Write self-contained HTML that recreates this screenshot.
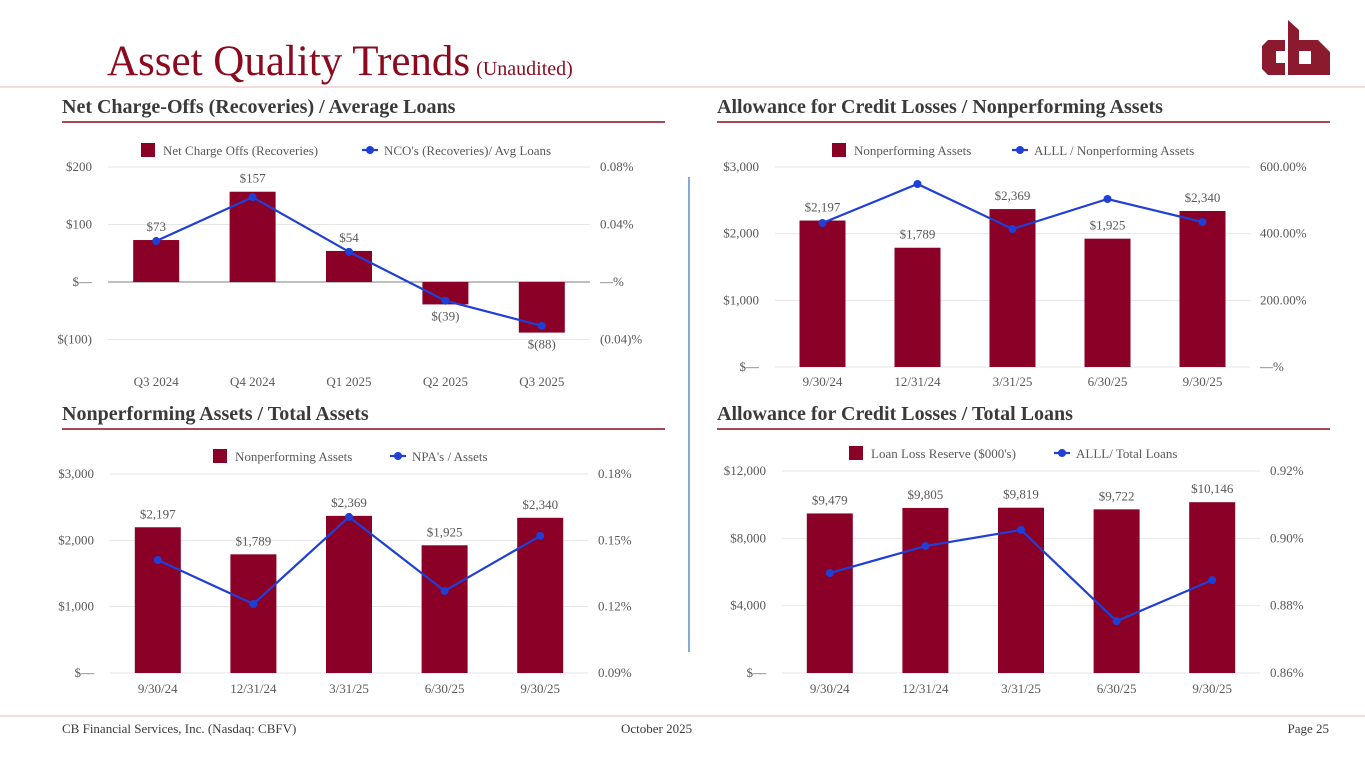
<!DOCTYPE html>
<html><head><meta charset="utf-8"><style>
body{margin:0;background:#fff;width:1365px;height:768px;overflow:hidden}
svg{display:block;font-family:"Liberation Serif",serif}
</style></head><body>
<svg id="s" width="1365" height="768" viewBox="0 0 1365 768">
<text x="107" y="75" font-size="43" fill="#8b0a1e">Asset Quality Trends<tspan font-size="20" dx="6">(Unaudited)</tspan></text>
<g fill="#8b1a2e">
<polygon points="1268,40 1285,40 1285,51 1276,51 1276,63 1285,63 1285,75 1268,75 1262,69 1262,46"/>
<polygon points="1288,20 1299,30 1299,40 1318,40 1330,52 1330,75 1288,75"/>
<rect x="1299" y="51" width="12" height="13" fill="#fff"/>
</g>
<line x1="0" y1="87" x2="1365" y2="87" stroke="#e8b8b8" stroke-width="1"/>
<text x="62" y="113" font-size="20" font-weight="bold" fill="#3a3a3a">Net Charge-Offs (Recoveries) / Average Loans</text>
<line x1="62" y1="122" x2="665" y2="122" stroke="#8b0a1e" stroke-width="1.5"/>
<text x="717" y="113" font-size="20" font-weight="bold" fill="#3a3a3a">Allowance for Credit Losses / Nonperforming Assets</text>
<line x1="717" y1="122" x2="1330" y2="122" stroke="#8b0a1e" stroke-width="1.5"/>
<text x="62" y="420" font-size="20" font-weight="bold" fill="#3a3a3a">Nonperforming Assets / Total Assets</text>
<line x1="62" y1="429" x2="665" y2="429" stroke="#8b0a1e" stroke-width="1.5"/>
<text x="717" y="420" font-size="20" font-weight="bold" fill="#3a3a3a">Allowance for Credit Losses / Total Loans</text>
<line x1="717" y1="429" x2="1330" y2="429" stroke="#8b0a1e" stroke-width="1.5"/>
<line x1="689" y1="177" x2="689" y2="652" stroke="#5b8fc9" stroke-width="1.5"/>
<line x1="0" y1="716" x2="1365" y2="716" stroke="#e8b8b8" stroke-width="1"/>
<text x="62" y="733" font-size="13" fill="#3a3a3a">CB Financial Services, Inc. (Nasdaq: CBFV)</text>
<text x="621" y="733" font-size="13" fill="#3a3a3a">October 2025</text>
<text x="1329" y="733" font-size="13" fill="#3a3a3a" text-anchor="end">Page 25</text>
</svg>
<script>
const c1Cats=["Q3 2024","Q4 2024","Q1 2025","Q2 2025","Q3 2025"];
const c1Bars=[73,157,54,-39,-88];
const c1BarLabels=["$73","$157","$54","$(39)","$(88)"];
const c1Line=[0.0285,0.059,0.021,-0.013,-0.0305];
const c1LeftTicks=[-100,0,100,200];
const c1LeftLabels=["$(100)","$—","$100","$200"];
const c1RightLabels=["(0.04)%","—%","0.04%","0.08%"];

const c2Cats=["9/30/24","12/31/24","3/31/25","6/30/25","9/30/25"];
const c2Bars=[2197,1789,2369,1925,2340];
const c2BarLabels=["$2,197","$1,789","$2,369","$1,925","$2,340"];
const c2Line=[432,549,414,504,435];
const c2LeftTicks=[0,1000,2000,3000];
const c2LeftLabels=["$—","$1,000","$2,000","$3,000"];
const c2RightLabels=["—%","200.00%","400.00%","600.00%"];

const c3Cats=["9/30/24","12/31/24","3/31/25","6/30/25","9/30/25"];
const c3Bars=[2197,1789,2369,1925,2340];
const c3BarLabels=["$2,197","$1,789","$2,369","$1,925","$2,340"];
const c3Line=[0.1411,0.1212,0.1606,0.1271,0.152];
const c3LeftTicks=[0,1000,2000,3000];
const c3LeftLabels=["$—","$1,000","$2,000","$3,000"];
const c3RightLabels=["0.09%","0.12%","0.15%","0.18%"];

const c4Cats=["9/30/24","12/31/24","3/31/25","6/30/25","9/30/25"];
const c4Bars=[9479,9805,9819,9722,10146];
const c4BarLabels=["$9,479","$9,805","$9,819","$9,722","$10,146"];
const c4Line=[0.8897,0.8977,0.9025,0.8754,0.8876];
const c4LeftTicks=[0,4000,8000,12000];
const c4LeftLabels=["$—","$4,000","$8,000","$12,000"];
const c4RightLabels=["0.86%","0.88%","0.90%","0.92%"];

const NS="http://www.w3.org/2000/svg";
const svg=document.getElementById('s');
function mk(tag,attrs,parent,txt){const e=document.createElementNS(NS,tag);for(const k in attrs)e.setAttribute(k,attrs[k]);if(txt!==undefined)e.textContent=txt;(parent||svg).appendChild(e);return e;}

function chart(o){
  const g=mk('g',{});
  
  
  const lmin=o.lt[0],lmax=o.lt[o.lt.length-1];
  const yL=v=>o.bot-(v-lmin)/(lmax-lmin)*(o.bot-o.top);
  const yR=v=>o.bot-(v-o.rmin)/(o.rmax-o.rmin)*(o.bot-o.top);
  const step=(o.x1-o.x0)/o.cats.length;
  const xC=i=>o.x0+step*(i+0.5);
  o.lt.forEach((t,i)=>{
    const gl=mk('line',{x1:o.x0,x2:o.x1,y1:yL(t),y2:yL(t),stroke:t===0&&lmin<0?'#7f7f7f':'#e6e6e6','stroke-width':1},g);
    
    
    const a=mk('text',{x:o.x0-16,y:yL(t)+4,'font-size':13,fill:'#595959','text-anchor':'end'},g,o.ll[i]);
    
    
    const b=mk('text',{x:o.x1+10,y:yL(t)+4,'font-size':13,fill:'#595959'},g,o.rl[i]);
    
    
  });
  const zero=yL(Math.max(0,lmin));
  o.bars.forEach((v,i)=>{
    const y=yL(v);
    const r=mk('rect',{x:xC(i)-23,y:Math.min(y,zero),width:46,height:Math.abs(zero-y),fill:'#8b0026'},g);
    
    
    const ly=v>=0?y-9:y+16;
    const t=mk('text',{x:xC(i),y:ly,'font-size':13,fill:'#595959','text-anchor':'middle'},g,o.bl[i]);
    
    
    const c=mk('text',{x:xC(i),y:o.catY,'font-size':13,fill:'#595959','text-anchor':'middle'},g,o.cats[i]);
    
    
  });
  const pts=o.line.map((v,i)=>xC(i)+','+yR(v)).join(' ');
  const pl=mk('polyline',{points:pts,fill:'none',stroke:'#1f3fd6','stroke-width':2.2},g);
  
  
  o.line.forEach((v,i)=>{
    const d=mk('circle',{cx:xC(i),cy:yR(v),r:4,fill:'#1f3fd6'},g);
    
    
  });
  const lg=mk('g',{},g);
  
  
  mk('rect',{x:o.lgx,y:o.lgy-7,width:14,height:14,fill:'#8b0026'},lg);
  mk('text',{x:o.lgx+22,y:o.lgy+5,'font-size':13,fill:'#595959'},lg,o.lg1);
  mk('line',{x1:o.lgx2,x2:o.lgx2+16,y1:o.lgy,y2:o.lgy,stroke:'#1f3fd6','stroke-width':2.2},lg);
  mk('circle',{cx:o.lgx2+8,cy:o.lgy,r:4,fill:'#1f3fd6'},lg);
  mk('text',{x:o.lgx2+22,y:o.lgy+5,'font-size':13,fill:'#595959'},lg,o.lg2);
}
chart({name:'nco-chart',cats:c1Cats,bars:c1Bars,bl:c1BarLabels,line:c1Line,lt:c1LeftTicks,ll:c1LeftLabels,rl:c1RightLabels,rmin:-0.04,rmax:0.08,x0:108,x1:590,top:167,bot:339.5,catY:386,lgx:141,lgx2:362,lgy:150,lg1:'Net Charge Offs (Recoveries)',lg2:"NCO's (Recoveries)/ Avg Loans"});
chart({name:'acl-npa-chart',cats:c2Cats,bars:c2Bars,bl:c2BarLabels,line:c2Line,lt:c2LeftTicks,ll:c2LeftLabels,rl:c2RightLabels,rmin:0,rmax:600,x0:775,x1:1250,top:167,bot:367,catY:386,lgx:832,lgx2:1012,lgy:150,lg1:'Nonperforming Assets',lg2:'ALLL / Nonperforming Assets'});
chart({name:'npa-assets-chart',cats:c3Cats,bars:c3Bars,bl:c3BarLabels,line:c3Line,lt:c3LeftTicks,ll:c3LeftLabels,rl:c3RightLabels,rmin:0.09,rmax:0.18,x0:110,x1:588,top:474,bot:673,catY:693,lgx:213,lgx2:390,lgy:456,lg1:'Nonperforming Assets',lg2:"NPA's / Assets"});
chart({name:'acl-loans-chart',cats:c4Cats,bars:c4Bars,bl:c4BarLabels,line:c4Line,lt:c4LeftTicks,ll:c4LeftLabels,rl:c4RightLabels,rmin:0.86,rmax:0.92,x0:782,x1:1260,top:471,bot:673,catY:693,lgx:849,lgx2:1054,lgy:453,lg1:"Loan Loss Reserve ($000's)",lg2:'ALLL/ Total Loans'});
</script>
</body></html>
